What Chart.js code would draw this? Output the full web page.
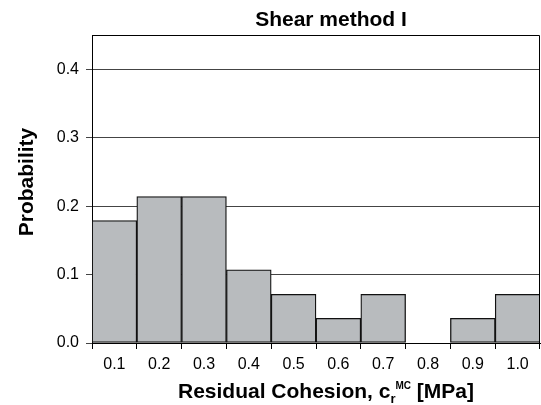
<!DOCTYPE html>
<html>
<head>
<meta charset="utf-8">
<script src="https://cdn.jsdelivr.net/npm/chart.js@4/dist/chart.umd.min.js"></script>
<style>
  body { margin: 0; background: #fff; }
  #wrap { width: 541px; height: 405px; position: relative; }
</style>
</head>
<body>
<div id="wrap"><canvas id="chart"></canvas></div>
<script>
// bin centres (MPa) and probability per bin
const categories = ["0.1", "0.2", "0.3", "0.4", "0.5", "0.6", "0.7", "0.8", "0.9", "1.0"];
const probability = [0.179, 0.214, 0.214, 0.107, 0.071, 0.036, 0.071, 0, 0.036, 0.071];
const yTicks = [0, 0.1, 0.2, 0.3, 0.4];

const FONT = "'Liberation Sans', Arial, sans-serif";

// titles drawn by hand so the sub/superscript in the x label works
const titlesPlugin = {
  id: "titles",
  afterDraw(chart) {
    const ctx = chart.ctx;
    const area = chart.chartArea;
    ctx.save();

    // frame on top and right
    ctx.strokeStyle = "#000";
    ctx.lineWidth = 1;
    ctx.beginPath();
    ctx.moveTo(area.left, area.top + 0.5);
    ctx.lineTo(area.right - 0.5, area.top + 0.5);
    ctx.lineTo(area.right - 0.5, area.bottom);
    ctx.stroke();

    ctx.fillStyle = "#000";
    ctx.textBaseline = "alphabetic";

    // main title
    ctx.font = "bold 21px " + FONT;
    ctx.textAlign = "center";
    ctx.fillText("Shear method I", 331, 26);

    // y title
    ctx.save();
    ctx.translate(33, 182);
    ctx.rotate(-Math.PI / 2);
    ctx.fillText("Probability", 0, 0);
    ctx.restore();

    // x title: Residual Cohesion, c_r^MC [MPa]
    const parts = [
      { t: "Residual Cohesion, c", f: "bold 21px " + FONT, dy: 0 },
      { t: "r", f: "bold 13px " + FONT, dy: 5 },
      { t: "MC", f: "bold 10px " + FONT, dy: -9 },
      { t: " [MPa]", f: "bold 21px " + FONT, dy: 0 }
    ];
    let total = 0;
    parts.forEach(p => { ctx.font = p.f; p.w = ctx.measureText(p.t).width; total += p.w; });
    let x = 326 - total / 2;
    ctx.textAlign = "left";
    parts.forEach(p => {
      ctx.font = p.f;
      ctx.fillText(p.t, x, 398 + p.dy);
      x += p.w;
    });
    ctx.restore();
  }
};

new Chart(document.getElementById("chart"), {
  type: "bar",
  data: {
    labels: categories,
    datasets: [{
      data: probability,
      backgroundColor: "#b8bbbe",
      borderColor: "#111",
      borderWidth: 1.3,
      borderSkipped: false,
      barPercentage: 1,
      categoryPercentage: 1
    }]
  },
  options: {
    responsive: true,
    maintainAspectRatio: false,
    animation: false,
    layout: { padding: { top: 35, right: 1, left: 0, bottom: 0 } },
    plugins: {
      legend: { display: false },
      tooltip: { enabled: false }
    },
    scales: {
      x: {
        offset: true,
        grid: { offset: true, drawOnChartArea: false, tickLength: 6, color: "#000" },
        border: { color: "#000", width: 1 },
        ticks: { color: "#000", padding: 6, font: { family: FONT, size: 16 } },
        afterFit(scale) { scale.height = 62; }
      },
      y: {
        min: 0,
        max: 0.45,
        afterBuildTicks(scale) { scale.ticks = yTicks.map(v => ({ value: v })); },
        grid: { color: "#444", tickLength: 6 },
        border: { color: "#000", width: 1 },
        ticks: {
          color: "#000",
          padding: 7,
          font: { family: FONT, size: 16 },
          callback: v => v.toFixed(1)
        },
        afterFit(scale) { scale.width = 92; }
      }
    }
  },
  plugins: [titlesPlugin]
});
</script>
</body>
</html>
